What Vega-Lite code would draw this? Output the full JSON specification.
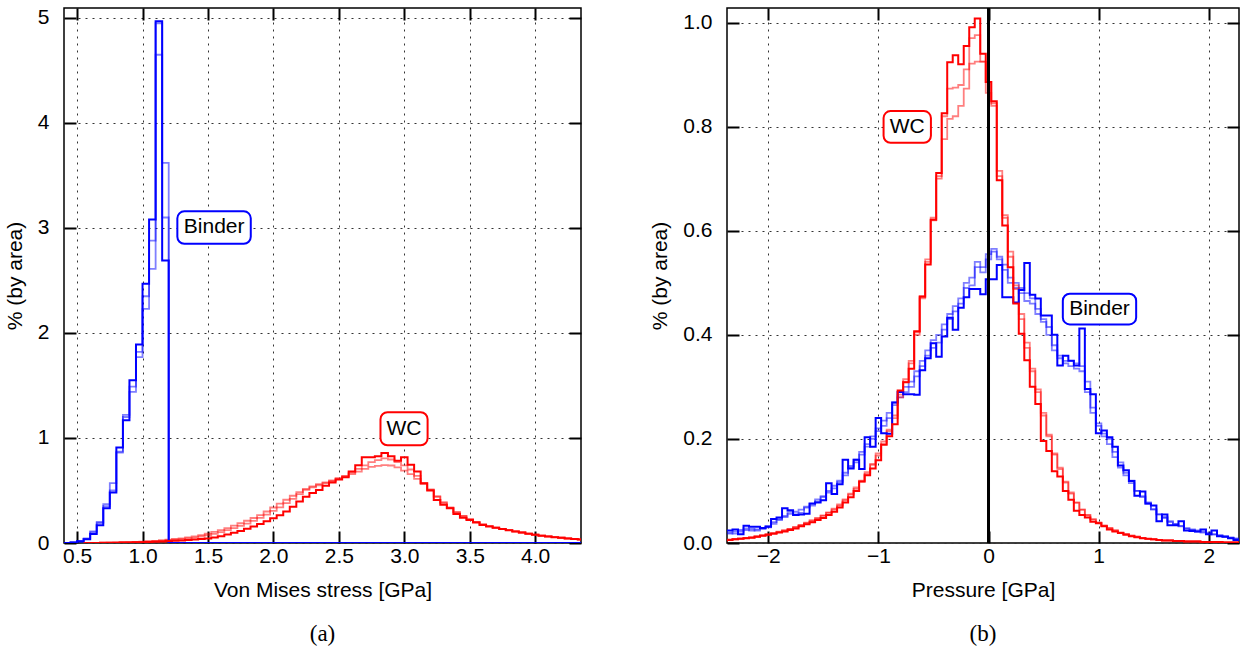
{
  "$schema": "https://vega.github.io/schema/vega-lite/v6.json",
  "background": "white",
  "padding": {"left": 3, "top": 5, "right": 2, "bottom": 2},
  "spacing": 66,
  "config": {
    "font": "Liberation Sans",
    "view": {"stroke": "black", "strokeWidth": 1.5},
    "axis": {
      "domain": false, "tickColor": "black", "tickWidth": 2, "tickSize": -12,
      "labelFont": "Liberation Sans", "labelFontSize": 21, "labelColor": "black",
      "titleFont": "Liberation Sans", "titleFontSize": 21, "titleFontWeight": "normal", "titleColor": "black",
      "gridColor": "#333333", "gridDash": [2, 5], "gridWidth": 1, "gridOpacity": 1
    }
  },
  "datasets": {
    "vmB": [
      {"x":0.40,"b0":0,"b1":0,"b2":0},
      {"x":0.45,"b0":0.005,"b1":0.005,"b2":0.006},
      {"x":0.50,"b0":0.015,"b1":0.02,"b2":0.02},
      {"x":0.55,"b0":0.035,"b1":0.04,"b2":0.045},
      {"x":0.60,"b0":0.085,"b1":0.10,"b2":0.11},
      {"x":0.65,"b0":0.17,"b1":0.19,"b2":0.20},
      {"x":0.70,"b0":0.33,"b1":0.37,"b2":0.35},
      {"x":0.75,"b0":0.48,"b1":0.57,"b2":0.50},
      {"x":0.80,"b0":0.91,"b1":0.87,"b2":0.86},
      {"x":0.85,"b0":1.17,"b1":1.22,"b2":1.20},
      {"x":0.90,"b0":1.55,"b1":1.49,"b2":1.44},
      {"x":0.95,"b0":1.89,"b1":1.82,"b2":1.77},
      {"x":1.00,"b0":2.47,"b1":2.35,"b2":2.23},
      {"x":1.05,"b0":3.08,"b1":2.88,"b2":2.61},
      {"x":1.10,"b0":4.97,"b1":4.95,"b2":4.65},
      {"x":1.15,"b0":2.69,"b1":3.62,"b2":3.10},
      {"x":1.20,"b0":0,"b1":0,"b2":0},
      {"x":4.35,"b0":0,"b1":0,"b2":0}
    ],
    "vmW": [
      {"x":0.55,"r0":0.000,"r1":0.000,"r2":0.000},
      {"x":0.60,"r0":0.001,"r1":0.001,"r2":0.001},
      {"x":0.65,"r0":0.001,"r1":0.002,"r2":0.002},
      {"x":0.70,"r0":0.002,"r1":0.002,"r2":0.003},
      {"x":0.75,"r0":0.002,"r1":0.003,"r2":0.004},
      {"x":0.80,"r0":0.003,"r1":0.004,"r2":0.005},
      {"x":0.85,"r0":0.004,"r1":0.005,"r2":0.007},
      {"x":0.90,"r0":0.005,"r1":0.007,"r2":0.009},
      {"x":0.95,"r0":0.006,"r1":0.009,"r2":0.011},
      {"x":1.00,"r0":0.008,"r1":0.011,"r2":0.014},
      {"x":1.05,"r0":0.010,"r1":0.014,"r2":0.017},
      {"x":1.10,"r0":0.012,"r1":0.017,"r2":0.021},
      {"x":1.15,"r0":0.015,"r1":0.021,"r2":0.026},
      {"x":1.20,"r0":0.018,"r1":0.026,"r2":0.032},
      {"x":1.25,"r0":0.021,"r1":0.031,"r2":0.038},
      {"x":1.30,"r0":0.025,"r1":0.037,"r2":0.045},
      {"x":1.35,"r0":0.029,"r1":0.044,"r2":0.053},
      {"x":1.40,"r0":0.033,"r1":0.052,"r2":0.063},
      {"x":1.45,"r0":0.038,"r1":0.062,"r2":0.075},
      {"x":1.50,"r0":0.044,"r1":0.074,"r2":0.090},
      {"x":1.55,"r0":0.053,"r1":0.087,"r2":0.105},
      {"x":1.60,"r0":0.065,"r1":0.103,"r2":0.122},
      {"x":1.65,"r0":0.080,"r1":0.122,"r2":0.142},
      {"x":1.70,"r0":0.098,"r1":0.142,"r2":0.165},
      {"x":1.75,"r0":0.115,"r1":0.163,"r2":0.188},
      {"x":1.80,"r0":0.135,"r1":0.185,"r2":0.212},
      {"x":1.85,"r0":0.158,"r1":0.210,"r2":0.238},
      {"x":1.90,"r0":0.182,"r1":0.240,"r2":0.265},
      {"x":1.95,"r0":0.208,"r1":0.270,"r2":0.300},
      {"x":2.00,"r0":0.235,"r1":0.305,"r2":0.338},
      {"x":2.05,"r0":0.265,"r1":0.340,"r2":0.375},
      {"x":2.10,"r0":0.300,"r1":0.380,"r2":0.412},
      {"x":2.15,"r0":0.345,"r1":0.420,"r2":0.450},
      {"x":2.20,"r0":0.395,"r1":0.465,"r2":0.485},
      {"x":2.25,"r0":0.440,"r1":0.505,"r2":0.515},
      {"x":2.30,"r0":0.475,"r1":0.530,"r2":0.540},
      {"x":2.35,"r0":0.505,"r1":0.550,"r2":0.560},
      {"x":2.40,"r0":0.545,"r1":0.570,"r2":0.578},
      {"x":2.45,"r0":0.575,"r1":0.590,"r2":0.595},
      {"x":2.50,"r0":0.605,"r1":0.615,"r2":0.615},
      {"x":2.55,"r0":0.625,"r1":0.640,"r2":0.635},
      {"x":2.60,"r0":0.680,"r1":0.670,"r2":0.655},
      {"x":2.65,"r0":0.740,"r1":0.705,"r2":0.680},
      {"x":2.70,"r0":0.816,"r1":0.740,"r2":0.705},
      {"x":2.75,"r0":0.816,"r1":0.770,"r2":0.725},
      {"x":2.80,"r0":0.825,"r1":0.790,"r2":0.735},
      {"x":2.85,"r0":0.857,"r1":0.805,"r2":0.742},
      {"x":2.90,"r0":0.825,"r1":0.795,"r2":0.738},
      {"x":2.95,"r0":0.784,"r1":0.770,"r2":0.720},
      {"x":3.00,"r0":0.816,"r1":0.740,"r2":0.690},
      {"x":3.05,"r0":0.746,"r1":0.700,"r2":0.655},
      {"x":3.10,"r0":0.680,"r1":0.640,"r2":0.610},
      {"x":3.15,"r0":0.570,"r1":0.570,"r2":0.560},
      {"x":3.20,"r0":0.500,"r1":0.510,"r2":0.505},
      {"x":3.25,"r0":0.410,"r1":0.440,"r2":0.445},
      {"x":3.30,"r0":0.365,"r1":0.380,"r2":0.390},
      {"x":3.35,"r0":0.330,"r1":0.335,"r2":0.340},
      {"x":3.40,"r0":0.275,"r1":0.290,"r2":0.295},
      {"x":3.45,"r0":0.240,"r1":0.255,"r2":0.258},
      {"x":3.50,"r0":0.219,"r1":0.225,"r2":0.228},
      {"x":3.55,"r0":0.195,"r1":0.198,"r2":0.200},
      {"x":3.60,"r0":0.172,"r1":0.176,"r2":0.178},
      {"x":3.65,"r0":0.158,"r1":0.160,"r2":0.161},
      {"x":3.70,"r0":0.145,"r1":0.146,"r2":0.147},
      {"x":3.75,"r0":0.133,"r1":0.134,"r2":0.134},
      {"x":3.80,"r0":0.122,"r1":0.122,"r2":0.122},
      {"x":3.85,"r0":0.110,"r1":0.111,"r2":0.111},
      {"x":3.90,"r0":0.100,"r1":0.100,"r2":0.100},
      {"x":3.95,"r0":0.088,"r1":0.089,"r2":0.089},
      {"x":4.00,"r0":0.078,"r1":0.079,"r2":0.079},
      {"x":4.05,"r0":0.070,"r1":0.071,"r2":0.071},
      {"x":4.10,"r0":0.062,"r1":0.063,"r2":0.063},
      {"x":4.15,"r0":0.055,"r1":0.056,"r2":0.056},
      {"x":4.20,"r0":0.049,"r1":0.050,"r2":0.050},
      {"x":4.25,"r0":0.043,"r1":0.044,"r2":0.044},
      {"x":4.30,"r0":0.038,"r1":0.039,"r2":0.039},
      {"x":4.35,"r0":0.033,"r1":0.034,"r2":0.034}
    ],
    "pr": [
      {"x":-2.40,"b0":0.024,"b1":0.020,"b2":0.018,"r0":0.005,"r1":0.006,"r2":0.006},
      {"x":-2.35,"b0":0.024,"b1":0.020,"b2":0.018,"r0":0.006,"r1":0.006,"r2":0.007},
      {"x":-2.30,"b0":0.026,"b1":0.018,"b2":0.022,"r0":0.007,"r1":0.007,"r2":0.008},
      {"x":-2.25,"b0":0.017,"b1":0.025,"b2":0.022,"r0":0.008,"r1":0.008,"r2":0.009},
      {"x":-2.20,"b0":0.033,"b1":0.028,"b2":0.025,"r0":0.009,"r1":0.010,"r2":0.010},
      {"x":-2.15,"b0":0.031,"b1":0.024,"b2":0.027,"r0":0.010,"r1":0.011,"r2":0.011},
      {"x":-2.10,"b0":0.031,"b1":0.026,"b2":0.024,"r0":0.012,"r1":0.012,"r2":0.013},
      {"x":-2.05,"b0":0.029,"b1":0.027,"b2":0.028,"r0":0.014,"r1":0.014,"r2":0.015},
      {"x":-2.00,"b0":0.031,"b1":0.030,"b2":0.033,"r0":0.016,"r1":0.016,"r2":0.017},
      {"x":-1.95,"b0":0.046,"b1":0.037,"b2":0.040,"r0":0.018,"r1":0.019,"r2":0.019},
      {"x":-1.90,"b0":0.049,"b1":0.046,"b2":0.044,"r0":0.020,"r1":0.021,"r2":0.022},
      {"x":-1.85,"b0":0.067,"b1":0.052,"b2":0.050,"r0":0.022,"r1":0.024,"r2":0.024},
      {"x":-1.80,"b0":0.063,"b1":0.060,"b2":0.056,"r0":0.025,"r1":0.027,"r2":0.027},
      {"x":-1.75,"b0":0.054,"b1":0.055,"b2":0.060,"r0":0.028,"r1":0.030,"r2":0.031},
      {"x":-1.70,"b0":0.055,"b1":0.058,"b2":0.064,"r0":0.032,"r1":0.034,"r2":0.035},
      {"x":-1.65,"b0":0.056,"b1":0.070,"b2":0.068,"r0":0.036,"r1":0.038,"r2":0.039},
      {"x":-1.60,"b0":0.076,"b1":0.075,"b2":0.072,"r0":0.040,"r1":0.042,"r2":0.044},
      {"x":-1.55,"b0":0.078,"b1":0.080,"b2":0.084,"r0":0.044,"r1":0.047,"r2":0.048},
      {"x":-1.50,"b0":0.082,"b1":0.090,"b2":0.088,"r0":0.048,"r1":0.052,"r2":0.053},
      {"x":-1.45,"b0":0.115,"b1":0.100,"b2":0.097,"r0":0.054,"r1":0.058,"r2":0.059},
      {"x":-1.40,"b0":0.094,"b1":0.105,"b2":0.110,"r0":0.060,"r1":0.064,"r2":0.066},
      {"x":-1.35,"b0":0.113,"b1":0.120,"b2":0.117,"r0":0.068,"r1":0.072,"r2":0.074},
      {"x":-1.30,"b0":0.160,"b1":0.135,"b2":0.130,"r0":0.078,"r1":0.082,"r2":0.084},
      {"x":-1.25,"b0":0.143,"b1":0.145,"b2":0.148,"r0":0.088,"r1":0.093,"r2":0.095},
      {"x":-1.20,"b0":0.160,"b1":0.155,"b2":0.160,"r0":0.100,"r1":0.104,"r2":0.107},
      {"x":-1.15,"b0":0.142,"b1":0.175,"b2":0.170,"r0":0.118,"r1":0.118,"r2":0.120},
      {"x":-1.10,"b0":0.203,"b1":0.190,"b2":0.185,"r0":0.130,"r1":0.133,"r2":0.136},
      {"x":-1.05,"b0":0.185,"b1":0.205,"b2":0.200,"r0":0.143,"r1":0.150,"r2":0.152},
      {"x":-1.00,"b0":0.240,"b1":0.220,"b2":0.215,"r0":0.159,"r1":0.168,"r2":0.172},
      {"x":-0.95,"b0":0.211,"b1":0.225,"b2":0.235,"r0":0.189,"r1":0.190,"r2":0.195},
      {"x":-0.90,"b0":0.210,"b1":0.250,"b2":0.240,"r0":0.205,"r1":0.215,"r2":0.218},
      {"x":-0.85,"b0":0.270,"b1":0.270,"b2":0.265,"r0":0.228,"r1":0.240,"r2":0.245},
      {"x":-0.80,"b0":0.290,"b1":0.290,"b2":0.280,"r0":0.293,"r1":0.280,"r2":0.285},
      {"x":-0.75,"b0":0.286,"b1":0.300,"b2":0.290,"r0":0.309,"r1":0.310,"r2":0.315},
      {"x":-0.70,"b0":0.286,"b1":0.310,"b2":0.300,"r0":0.335,"r1":0.345,"r2":0.350},
      {"x":-0.65,"b0":0.285,"b1":0.330,"b2":0.320,"r0":0.407,"r1":0.400,"r2":0.405},
      {"x":-0.60,"b0":0.332,"b1":0.350,"b2":0.340,"r0":0.473,"r1":0.470,"r2":0.475},
      {"x":-0.55,"b0":0.355,"b1":0.370,"b2":0.360,"r0":0.535,"r1":0.540,"r2":0.545},
      {"x":-0.50,"b0":0.384,"b1":0.390,"b2":0.375,"r0":0.621,"r1":0.625,"r2":0.620},
      {"x":-0.45,"b0":0.358,"b1":0.400,"b2":0.385,"r0":0.711,"r1":0.705,"r2":0.700},
      {"x":-0.40,"b0":0.397,"b1":0.420,"b2":0.410,"r0":0.826,"r1":0.820,"r2":0.776},
      {"x":-0.35,"b0":0.433,"b1":0.440,"b2":0.430,"r0":0.924,"r1":0.873,"r2":0.815},
      {"x":-0.30,"b0":0.410,"b1":0.455,"b2":0.445,"r0":0.937,"r1":0.875,"r2":0.820},
      {"x":-0.25,"b0":0.452,"b1":0.470,"b2":0.460,"r0":0.920,"r1":0.880,"r2":0.840},
      {"x":-0.20,"b0":0.472,"b1":0.500,"b2":0.490,"r0":0.955,"r1":0.910,"r2":0.873},
      {"x":-0.15,"b0":0.488,"b1":0.510,"b2":0.495,"r0":0.991,"r1":0.970,"r2":0.921},
      {"x":-0.10,"b0":0.488,"b1":0.540,"b2":0.530,"r0":1.008,"r1":0.976,"r2":0.925},
      {"x":-0.05,"b0":0.478,"b1":0.520,"b2":0.530,"r0":0.940,"r1":0.925,"r2":0.925},
      {"x":0.00,"b0":0.507,"b1":0.555,"b2":0.545,"r0":0.886,"r1":0.886,"r2":0.865},
      {"x":0.05,"b0":0.507,"b1":0.565,"b2":0.560,"r0":0.849,"r1":0.840,"r2":0.845},
      {"x":0.10,"b0":0.534,"b1":0.550,"b2":0.545,"r0":0.697,"r1":0.705,"r2":0.715},
      {"x":0.15,"b0":0.472,"b1":0.525,"b2":0.535,"r0":0.610,"r1":0.625,"r2":0.630},
      {"x":0.20,"b0":0.472,"b1":0.500,"b2":0.510,"r0":0.530,"r1":0.550,"r2":0.560},
      {"x":0.25,"b0":0.462,"b1":0.500,"b2":0.490,"r0":0.460,"r1":0.488,"r2":0.495},
      {"x":0.30,"b0":0.486,"b1":0.490,"b2":0.480,"r0":0.402,"r1":0.430,"r2":0.440},
      {"x":0.35,"b0":0.538,"b1":0.480,"b2":0.465,"r0":0.351,"r1":0.375,"r2":0.385},
      {"x":0.40,"b0":0.477,"b1":0.470,"b2":0.460,"r0":0.300,"r1":0.330,"r2":0.335},
      {"x":0.45,"b0":0.470,"b1":0.450,"b2":0.440,"r0":0.267,"r1":0.290,"r2":0.295},
      {"x":0.50,"b0":0.437,"b1":0.430,"b2":0.425,"r0":0.196,"r1":0.245,"r2":0.250},
      {"x":0.55,"b0":0.437,"b1":0.415,"b2":0.400,"r0":0.177,"r1":0.205,"r2":0.208},
      {"x":0.60,"b0":0.400,"b1":0.380,"b2":0.370,"r0":0.138,"r1":0.170,"r2":0.172},
      {"x":0.65,"b0":0.341,"b1":0.360,"b2":0.355,"r0":0.128,"r1":0.142,"r2":0.145},
      {"x":0.70,"b0":0.360,"b1":0.350,"b2":0.345,"r0":0.100,"r1":0.116,"r2":0.118},
      {"x":0.75,"b0":0.350,"b1":0.350,"b2":0.340,"r0":0.083,"r1":0.095,"r2":0.097},
      {"x":0.80,"b0":0.341,"b1":0.345,"b2":0.335,"r0":0.062,"r1":0.077,"r2":0.078},
      {"x":0.85,"b0":0.412,"b1":0.340,"b2":0.330,"r0":0.054,"r1":0.064,"r2":0.064},
      {"x":0.90,"b0":0.296,"b1":0.310,"b2":0.290,"r0":0.049,"r1":0.053,"r2":0.054},
      {"x":0.95,"b0":0.286,"b1":0.260,"b2":0.250,"r0":0.041,"r1":0.045,"r2":0.046},
      {"x":1.00,"b0":0.211,"b1":0.230,"b2":0.225,"r0":0.038,"r1":0.039,"r2":0.039},
      {"x":1.05,"b0":0.216,"b1":0.210,"b2":0.205,"r0":0.032,"r1":0.033,"r2":0.034},
      {"x":1.10,"b0":0.203,"b1":0.200,"b2":0.190,"r0":0.026,"r1":0.028,"r2":0.029},
      {"x":1.15,"b0":0.185,"b1":0.175,"b2":0.165,"r0":0.022,"r1":0.024,"r2":0.024},
      {"x":1.20,"b0":0.149,"b1":0.155,"b2":0.145,"r0":0.019,"r1":0.020,"r2":0.020},
      {"x":1.25,"b0":0.140,"b1":0.135,"b2":0.130,"r0":0.016,"r1":0.017,"r2":0.017},
      {"x":1.30,"b0":0.119,"b1":0.120,"b2":0.115,"r0":0.013,"r1":0.014,"r2":0.014},
      {"x":1.35,"b0":0.091,"b1":0.100,"b2":0.100,"r0":0.011,"r1":0.012,"r2":0.012},
      {"x":1.40,"b0":0.099,"b1":0.090,"b2":0.088,"r0":0.009,"r1":0.010,"r2":0.010},
      {"x":1.45,"b0":0.076,"b1":0.078,"b2":0.075,"r0":0.008,"r1":0.008,"r2":0.008},
      {"x":1.50,"b0":0.072,"b1":0.065,"b2":0.064,"r0":0.007,"r1":0.007,"r2":0.007},
      {"x":1.55,"b0":0.042,"b1":0.055,"b2":0.055,"r0":0.006,"r1":0.006,"r2":0.006},
      {"x":1.60,"b0":0.055,"b1":0.050,"b2":0.048,"r0":0.005,"r1":0.005,"r2":0.005},
      {"x":1.65,"b0":0.034,"b1":0.042,"b2":0.040,"r0":0.005,"r1":0.005,"r2":0.005},
      {"x":1.70,"b0":0.034,"b1":0.036,"b2":0.036,"r0":0.004,"r1":0.004,"r2":0.004},
      {"x":1.75,"b0":0.042,"b1":0.033,"b2":0.032,"r0":0.004,"r1":0.004,"r2":0.004},
      {"x":1.80,"b0":0.024,"b1":0.028,"b2":0.028,"r0":0.003,"r1":0.003,"r2":0.003},
      {"x":1.85,"b0":0.023,"b1":0.025,"b2":0.026,"r0":0.003,"r1":0.003,"r2":0.003},
      {"x":1.90,"b0":0.022,"b1":0.022,"b2":0.024,"r0":0.003,"r1":0.003,"r2":0.003},
      {"x":1.95,"b0":0.026,"b1":0.020,"b2":0.022,"r0":0.002,"r1":0.002,"r2":0.002},
      {"x":2.00,"b0":0.017,"b1":0.018,"b2":0.020,"r0":0.002,"r1":0.002,"r2":0.002},
      {"x":2.05,"b0":0.024,"b1":0.016,"b2":0.017,"r0":0.002,"r1":0.002,"r2":0.002},
      {"x":2.10,"b0":0.013,"b1":0.014,"b2":0.015,"r0":0.002,"r1":0.002,"r2":0.002},
      {"x":2.15,"b0":0.012,"b1":0.012,"b2":0.013,"r0":0.001,"r1":0.001,"r2":0.001},
      {"x":2.20,"b0":0.009,"b1":0.010,"b2":0.011,"r0":0.001,"r1":0.001,"r2":0.001},
      {"x":2.25,"b0":0.006,"b1":0.008,"b2":0.009,"r0":0.001,"r1":0.001,"r2":0.001},
      {"x":2.30,"b0":0.006,"b1":0.008,"b2":0.009,"r0":0.001,"r1":0.001,"r2":0.001}
    ],
    "boxes": [
      {"p":"a","m":"Binder","x1":1.266,"x2":1.827,"y1":2.85,"y2":3.159,"xc":1.547,"yc":3.005},
      {"p":"a","m":"WC","x1":2.818,"x2":3.178,"y1":0.93,"y2":1.245,"xc":2.998,"yc":1.087},
      {"p":"b","m":"WC","x1":-0.953,"x2":-0.523,"y1":0.769,"y2":0.83,"xc":-0.738,"yc":0.80},
      {"p":"b","m":"Binder","x1":0.675,"x2":1.341,"y1":0.42,"y2":0.479,"xc":1.008,"yc":0.4495}
    ]
  },
  "hconcat": [
    {
      "width": 517,
      "height": 535,
      "title": {"text": "(a)", "orient": "bottom", "font": "Liberation Serif", "fontSize": 23, "fontWeight": "normal", "color": "black", "offset": 23, "anchor": "middle"},
      "resolve": {"axis": {"x": "independent", "y": "independent"}},
      "layer": [
        {
          "data": {"name": "vmB"},
          "transform": [{"fold": ["b1", "b2"], "as": ["s", "v"]}],
          "mark": {"type": "line", "interpolate": "step-after", "strokeWidth": 1.8, "opacity": 0.5, "color": "#0000ff", "clip": true},
          "encoding": {
            "x": {"field": "x", "type": "quantitative", "scale": {"domain": [0.4, 4.35], "nice": false, "zero": false},
                  "axis": {"orient": "bottom", "values": [0.5, 1, 1.5, 2, 2.5, 3, 3.5, 4], "format": ".1f", "grid": true, "labelPadding": 14, "title": "Von Mises stress [GPa]", "titlePadding": 13}},
            "y": {"field": "v", "type": "quantitative", "scale": {"domain": [0, 5.095], "nice": false},
                  "axis": {"orient": "left", "values": [0, 1, 2, 3, 4, 5], "format": "d", "grid": true, "labelPadding": 27, "title": "% (by area)", "titlePadding": 12}},
            "detail": {"field": "s"}
          }
        },
        {
          "data": {"name": "vmW"},
          "transform": [{"fold": ["r1", "r2"], "as": ["s", "v"]}],
          "mark": {"type": "line", "interpolate": "step", "strokeWidth": 1.8, "opacity": 0.5, "color": "#ff0000", "clip": true},
          "encoding": {
            "x": {"field": "x", "type": "quantitative", "axis": null},
            "y": {"field": "v", "type": "quantitative", "axis": null},
            "detail": {"field": "s"}
          }
        },
        {
          "data": {"name": "vmB"},
          "mark": {"type": "line", "interpolate": "step-after", "strokeWidth": 2, "color": "#0000ff", "clip": true},
          "encoding": {
            "x": {"field": "x", "type": "quantitative", "axis": null},
            "y": {"field": "b0", "type": "quantitative", "axis": null}
          }
        },
        {
          "data": {"name": "vmW"},
          "mark": {"type": "line", "interpolate": "step", "strokeWidth": 2, "color": "#ff0000", "clip": true},
          "encoding": {
            "x": {"field": "x", "type": "quantitative", "axis": null},
            "y": {"field": "r0", "type": "quantitative", "axis": null}
          }
        },
        {
          "data": {"name": "boxes"},
          "transform": [{"filter": "datum.p == 'a'"}],
          "mark": {"type": "rect", "cornerRadius": 7, "fill": "white", "strokeWidth": 2},
          "encoding": {
            "x": {"field": "x1", "type": "quantitative", "axis": null},
            "x2": {"field": "x2"},
            "y": {"field": "y1", "type": "quantitative", "axis": null},
            "y2": {"field": "y2"},
            "stroke": {"field": "m", "type": "nominal", "scale": {"domain": ["Binder", "WC"], "range": ["#0000ff", "#ff0000"]}, "legend": null}
          }
        },
        {
          "data": {"name": "boxes"},
          "transform": [{"filter": "datum.p == 'a'"}],
          "mark": {"type": "text", "fontSize": 21, "font": "Liberation Sans", "color": "black", "align": "center", "baseline": "middle"},
          "encoding": {
            "x": {"field": "xc", "type": "quantitative",
                  "axis": {"orient": "top", "values": [0.5, 1, 1.5, 2, 2.5, 3, 3.5, 4], "labels": false, "grid": false, "title": null}},
            "y": {"field": "yc", "type": "quantitative",
                  "axis": {"orient": "right", "values": [0, 1, 2, 3, 4, 5], "labels": false, "grid": false, "title": null}},
            "text": {"field": "m"}
          }
        }
      ]
    },
    {
      "width": 512,
      "height": 535,
      "title": {"text": "(b)", "orient": "bottom", "font": "Liberation Serif", "fontSize": 23, "fontWeight": "normal", "color": "black", "offset": 23, "anchor": "middle"},
      "resolve": {"axis": {"x": "independent", "y": "independent"}},
      "layer": [
        {
          "data": {"name": "pr"},
          "transform": [{"fold": ["b1", "b2"], "as": ["s", "v"]}],
          "mark": {"type": "line", "interpolate": "step", "strokeWidth": 1.8, "opacity": 0.5, "color": "#0000ff", "clip": true},
          "encoding": {
            "x": {"field": "x", "type": "quantitative", "scale": {"domain": [-2.375, 2.275], "nice": false, "zero": false},
                  "axis": {"orient": "bottom", "values": [-2, -1, 0, 1, 2], "format": "d", "grid": true, "labelPadding": 14, "title": "Pressure [GPa]", "titlePadding": 13}},
            "y": {"field": "v", "type": "quantitative", "scale": {"domain": [0, 1.028], "nice": false},
                  "axis": {"orient": "left", "values": [0, 0.2, 0.4, 0.6, 0.8, 1.0], "format": ".1f", "grid": true, "labelPadding": 27, "title": "% (by area)", "titlePadding": 12}},
            "detail": {"field": "s"}
          }
        },
        {
          "data": {"name": "pr"},
          "transform": [{"fold": ["r1", "r2"], "as": ["s", "v"]}],
          "mark": {"type": "line", "interpolate": "step", "strokeWidth": 1.8, "opacity": 0.5, "color": "#ff0000", "clip": true},
          "encoding": {
            "x": {"field": "x", "type": "quantitative", "axis": null},
            "y": {"field": "v", "type": "quantitative", "axis": null},
            "detail": {"field": "s"}
          }
        },
        {
          "data": {"name": "pr"},
          "mark": {"type": "line", "interpolate": "step", "strokeWidth": 2, "color": "#0000ff", "clip": true},
          "encoding": {
            "x": {"field": "x", "type": "quantitative", "axis": null},
            "y": {"field": "b0", "type": "quantitative", "axis": null}
          }
        },
        {
          "data": {"name": "pr"},
          "mark": {"type": "line", "interpolate": "step", "strokeWidth": 2, "color": "#ff0000", "clip": true},
          "encoding": {
            "x": {"field": "x", "type": "quantitative", "axis": null},
            "y": {"field": "r0", "type": "quantitative", "axis": null}
          }
        },
        {
          "data": {"values": [{"z": 0}]},
          "mark": {"type": "rule", "color": "black", "strokeWidth": 3},
          "encoding": {
            "x": {"field": "z", "type": "quantitative", "axis": null}
          }
        },
        {
          "data": {"name": "boxes"},
          "transform": [{"filter": "datum.p == 'b'"}],
          "mark": {"type": "rect", "cornerRadius": 7, "fill": "white", "strokeWidth": 2},
          "encoding": {
            "x": {"field": "x1", "type": "quantitative", "axis": null},
            "x2": {"field": "x2"},
            "y": {"field": "y1", "type": "quantitative", "axis": null},
            "y2": {"field": "y2"},
            "stroke": {"field": "m", "type": "nominal", "scale": {"domain": ["Binder", "WC"], "range": ["#0000ff", "#ff0000"]}, "legend": null}
          }
        },
        {
          "data": {"name": "boxes"},
          "transform": [{"filter": "datum.p == 'b'"}],
          "mark": {"type": "text", "fontSize": 21, "font": "Liberation Sans", "color": "black", "align": "center", "baseline": "middle"},
          "encoding": {
            "x": {"field": "xc", "type": "quantitative",
                  "axis": {"orient": "top", "values": [-2, -1, 0, 1, 2], "labels": false, "grid": false, "title": null}},
            "y": {"field": "yc", "type": "quantitative",
                  "axis": {"orient": "right", "values": [0, 0.2, 0.4, 0.6, 0.8, 1.0], "labels": false, "grid": false, "title": null}},
            "text": {"field": "m"}
          }
        }
      ]
    }
  ]
}
